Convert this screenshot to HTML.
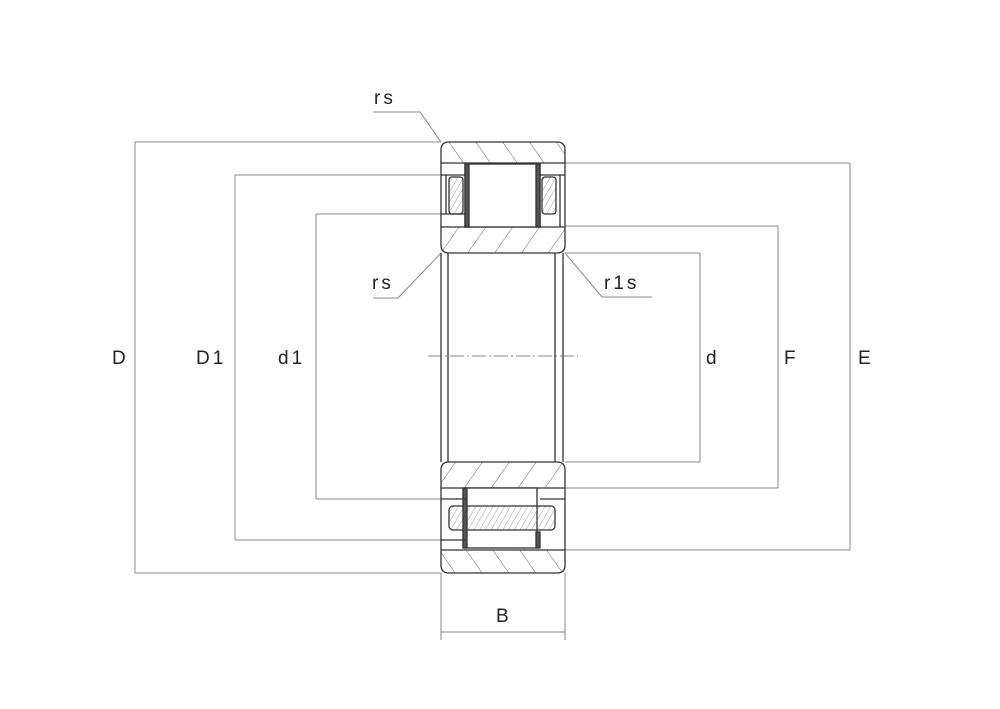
<!DOCTYPE html>
<html><head><style>
html,body{margin:0;padding:0;background:#fff;}
svg{display:block;}
text{font-family:"Liberation Sans",Arial,sans-serif;font-size:19px;fill:#222;letter-spacing:3px;}
</style></head><body>
<svg width="1000" height="709" viewBox="0 0 1000 709" xmlns="http://www.w3.org/2000/svg">
<defs>
<pattern id="h" patternUnits="userSpaceOnUse" width="22" height="22" patternTransform="rotate(-35)">
<line x1="0" y1="0" x2="0" y2="22" stroke="#666" stroke-width="1"/>
</pattern>
<pattern id="h2" patternUnits="userSpaceOnUse" width="22" height="22" patternTransform="rotate(35)">
<line x1="0" y1="0" x2="0" y2="22" stroke="#666" stroke-width="1"/>
</pattern>
<pattern id="x" patternUnits="userSpaceOnUse" width="5" height="5" patternTransform="rotate(30)">
<line x1="0" y1="0" x2="0" y2="5" stroke="#888" stroke-width="0.8"/>
</pattern>
</defs>
<g stroke="#888" stroke-width="1" fill="none">
<!-- extension lines -->
<line x1="135" y1="142" x2="441" y2="142"/>
<line x1="135" y1="573" x2="441" y2="573"/>
<line x1="235" y1="175" x2="447" y2="175"/>
<line x1="235" y1="540" x2="447" y2="540"/>
<line x1="316" y1="214" x2="447" y2="214"/>
<line x1="316" y1="499" x2="447" y2="499"/>
<line x1="565" y1="163" x2="850" y2="163"/>
<line x1="565" y1="550" x2="850" y2="550"/>
<line x1="565" y1="226" x2="778" y2="226"/>
<line x1="565" y1="488" x2="778" y2="488"/>
<line x1="565" y1="253" x2="700" y2="253"/>
<line x1="565" y1="462" x2="700" y2="462"/>
<line x1="441" y1="573" x2="441" y2="640"/>
<line x1="565" y1="573" x2="565" y2="640"/>
<!-- dimension lines -->
<line x1="135" y1="142" x2="135" y2="573"/>
<line x1="235" y1="175" x2="235" y2="540"/>
<line x1="316" y1="214" x2="316" y2="499"/>
<line x1="700" y1="253" x2="700" y2="462"/>
<line x1="778" y1="226" x2="778" y2="488"/>
<line x1="850" y1="163" x2="850" y2="550"/>
<line x1="441" y1="632" x2="565" y2="632"/>
<!-- leaders -->
<polyline points="373,112 420,112 441,142"/>
<polyline points="373,298 398,298 441,253"/>
<polyline points="565,253 602,297 652,297"/>
<!-- center lines -->
<line x1="428" y1="356" x2="578" y2="356" stroke-dasharray="14,3,2,3"/>
<line x1="470" y1="195" x2="535" y2="195" stroke-dasharray="14,3,2,3"/>
</g>
<!-- bearing -->
<g stroke="#333" stroke-width="1.3">
<!-- top outer ring -->
<path d="M441,163 L441,150 Q441,142 449,142 L557,142 Q565,142 565,150 L565,163 Z" fill="url(#h)"/>
<!-- top inner ring -->
<path d="M441,227 L565,227 L565,245 Q565,253 557,253 L449,253 Q441,253 441,245 Z" fill="url(#h2)"/>
<!-- bottom inner ring -->
<path d="M441,488 L565,488 L565,470 Q565,462 557,462 L449,462 Q441,462 441,470 Z" fill="url(#h2)"/>
<!-- bottom outer ring -->
<path d="M441,550 L441,565 Q441,573 449,573 L557,573 Q565,573 565,565 L565,550 Z" fill="url(#h)"/>
<!-- side walls -->
<line x1="441" y1="163" x2="441" y2="227" fill="none"/>
<line x1="565" y1="163" x2="565" y2="227" fill="none"/>
<line x1="441" y1="488" x2="441" y2="550" fill="none"/>
<line x1="565" y1="488" x2="565" y2="550" fill="none"/>
<line x1="446" y1="175" x2="446" y2="214" fill="none"/>
<line x1="560" y1="175" x2="560" y2="227" fill="none"/>
<!-- top roller -->
<rect x="465" y="164" width="75" height="63" fill="#fff"/>
<rect x="465" y="164" width="4" height="63" fill="#555"/>
<rect x="536" y="164" width="4" height="63" fill="#555"/>
<rect x="449" y="177" width="14" height="37" rx="3" fill="url(#x)"/>
<rect x="542" y="177" width="14" height="37" rx="3" fill="url(#x)"/>
<line x1="441" y1="175" x2="465" y2="175"/>
<line x1="441" y1="214" x2="465" y2="214"/>
<line x1="540" y1="175" x2="565" y2="175"/>
<!-- bore -->
<g fill="none">
<line x1="441" y1="253" x2="441" y2="462"/>
<line x1="448" y1="253" x2="448" y2="462"/>
<line x1="555" y1="253" x2="555" y2="462"/>
<line x1="563" y1="253" x2="563" y2="462"/>
</g>
<!-- bottom roller -->
<rect x="465" y="488" width="72" height="60" fill="#fff"/>
<rect x="449" y="506" width="106" height="24" rx="4" fill="url(#x)"/>
<rect x="463" y="488" width="4" height="60" fill="#555"/>
<rect x="536" y="532" width="4" height="16" fill="#555"/>
<line x1="441" y1="499" x2="465" y2="499"/>
<line x1="441" y1="540" x2="465" y2="540"/>
<line x1="540" y1="499" x2="565" y2="499"/>
</g>
<!-- labels -->
<text x="374" y="104">rs</text>
<text x="372" y="289">rs</text>
<text x="604" y="289">r1s</text>
<text x="112" y="364">D</text>
<text x="196" y="364">D1</text>
<text x="278" y="364">d1</text>
<text x="706" y="364">d</text>
<text x="784" y="364">F</text>
<text x="858" y="364">E</text>
<text x="496" y="622">B</text>
</svg>
</body></html>
